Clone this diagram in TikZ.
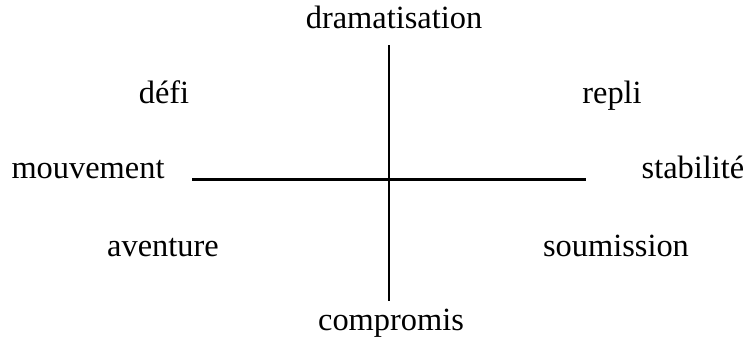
\documentclass[tikz,border=0pt]{standalone}
\usepackage{fontspec}
\setmainfont{Liberation Serif}
\begin{document}
\begin{tikzpicture}[x=0.5pt,y=-0.5pt,
  lbl/.style={anchor=base,inner sep=0pt,font=\fontsize{16.2}{19}\selectfont},
  axis/.style={line width=1.1pt}]
\useasboundingbox (0,0) rectangle (748,343);
\coordinate (top) at (389,45);
\coordinate (bot) at (389,301);
\coordinate (lft) at (192,179.5);
\coordinate (rgt) at (586,179.5);
\draw[axis] (top) -- (bot);
\draw[axis] (lft) -- (rgt);
\node[lbl] (dram) at (394,28) {dramatisation};
\node[lbl] (comp) at (391,330) {compromis};
\node[lbl] (mouv) at (88,178.5) {mouvement};
\node[lbl] (stab) at (693,178) {stabilité};
\node[lbl] (defi) at (164,103) {défi};
\node[lbl] (repl) at (612,103) {repli};
\node[lbl] (aven) at (163,256) {aventure};
\node[lbl] (soum) at (616,256) {soumission};
\end{tikzpicture}
\end{document}
